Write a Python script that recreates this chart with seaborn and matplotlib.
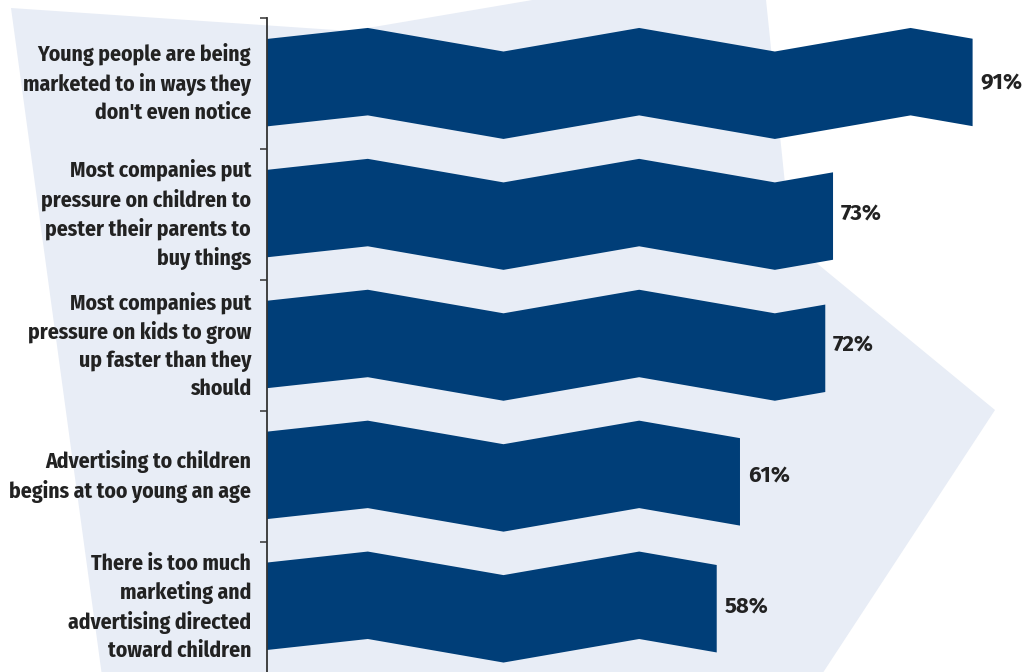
import matplotlib
matplotlib.use("Agg")
import matplotlib.pyplot as plt
from matplotlib import font_manager
from matplotlib.patches import Polygon
import seaborn as sns
import numpy as np
import pandas as pd

# ---------------- data ----------------
statements = [
    "Young people are being\nmarketed to in ways they\ndon't even notice",
    "Most companies put\npressure on children to\npester their parents to\nbuy things",
    "Most companies put\npressure on kids to grow\nup faster than they\nshould",
    "Advertising to children\nbegins at too young an age",
    "There is too much\nmarketing and\nadvertising directed\ntoward children",
]
percent_agree = [91, 73, 72, 61, 58]
value_labels = ["91%", "73%", "72%", "61%", "58%"]

# ---------------- style ----------------
BAR_COLOR = "#003e78"
BG_COLOR = "#e8edf6"
TEXT_COLOR = "#222222"

sns.set_theme(style="white")
available = {f.name for f in font_manager.fontManager.ttflist}
font_pref = ["Fira Sans Condensed", "PT Sans Narrow", "Asap Condensed",
             "Roboto Condensed", "Liberation Sans Narrow", "DejaVu Sans"]
FONT = next(f for f in font_pref if f in available)
num_pref = ["Fira Sans", "Open Sans", "Roboto", "DejaVu Sans"]
NUM_FONT = next(f for f in num_pref if f in available)
plt.rcParams["font.family"] = [FONT, "DejaVu Sans"]

W, H = 1023, 672
fig = plt.figure(figsize=(W / 100, H / 100), dpi=100)
fig.patch.set_facecolor("white")

# light background shape (decorative), in figure pixel coordinates
bg_px = [(11, 8), (350, 31), (762, -39), (791, 242), (995, 410),
         (792, 720), (108, 720)]
bg = Polygon([(x / W, 1 - y / H) for x, y in bg_px], closed=True,
             transform=fig.transFigure, facecolor=BG_COLOR, edgecolor="none",
             zorder=-5)
fig.patches.append(bg)

ax_left, ax_top, ax_bot = 267, 18, 672.5
ax = fig.add_axes([ax_left / W, 1 - ax_bot / H, 1 - ax_left / W, (ax_bot - ax_top) / H])
ax.patch.set_alpha(0)

df = pd.DataFrame({"statement": statements, "pct": percent_agree})
sns.barplot(data=df, x="pct", y="statement", orient="h", width=0.668,
            color=BAR_COLOR, ax=ax, saturation=1)

ax.set_xlim(0, 97.5)
ax.set_ylim(4.5, -0.5)

# zigzag profile (vertical shift of the bar, in category units) along x
zig_x = [0, 13, 30.5, 48, 65.5, 83, 100.5]
zig_d = [-0.006, -0.09, 0.09, -0.09, 0.09, -0.09, 0.09]

for p in list(ax.patches):
    x0, y0, w, h = p.get_x(), p.get_y(), p.get_width(), p.get_height()
    xs = [x0] + [v for v in zig_x if x0 < v < x0 + w] + [x0 + w]
    ds = np.interp(xs, zig_x, zig_d)
    top = [(x, y0 + d) for x, d in zip(xs, ds)]
    bot = [(x, y0 + h + d) for x, d in zip(xs, ds)][::-1]
    ax.add_patch(Polygon(top + bot, closed=True, facecolor=BAR_COLOR,
                         edgecolor="none", zorder=2))
    p.set_visible(False)

for i, (v, lab) in enumerate(zip(percent_agree, value_labels)):
    ax.text(v + 1.0, i, lab, va="center", ha="left", fontsize=16,
            fontweight="bold", color=TEXT_COLOR,
            family=[NUM_FONT, "DejaVu Sans"])

# axes decoration
for s in ["top", "right", "bottom"]:
    ax.spines[s].set_visible(False)
ax.spines["left"].set_color("#333333")
ax.spines["left"].set_linewidth(1.3)
ax.set_xlabel("")
ax.set_ylabel("")
ax.set_xticks([])
ax.set_yticks(range(len(statements)))
ax.set_yticklabels(statements, fontsize=15.6, fontweight="bold",
                   color=TEXT_COLOR, linespacing=1.38)
for t in ax.get_yticklabels():
    t.set_multialignment("right")
    t.set_verticalalignment("center")
ax.tick_params(axis="y", which="major", length=0, pad=11.5)
ax.set_yticks(np.arange(-0.5, len(statements), 1.0), minor=True)
ax.tick_params(axis="y", which="minor", length=5, width=1.1, color="#333333",
               direction="out", left=True)

fig.savefig("out.png", dpi=100)
